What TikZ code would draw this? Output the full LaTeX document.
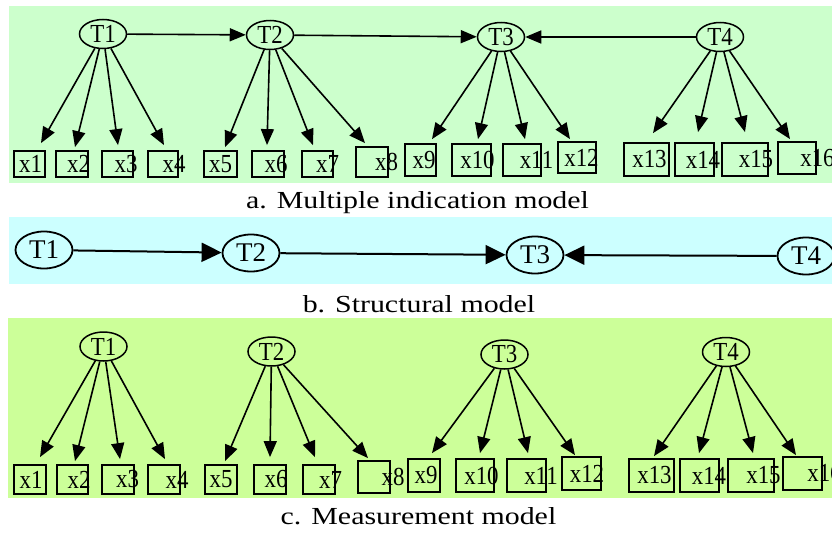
\documentclass[tikz,border=0pt]{standalone}
\usepackage{graphicx}
\usepackage{fontspec}
\setmainfont{Liberation Serif}
\usetikzlibrary{arrows.meta,shapes.geometric}

\definecolor{panelA}{HTML}{CCFFCC}
\definecolor{panelB}{HTML}{CCFFFF}
\definecolor{panelC}{HTML}{CCFF99}

\tikzset{
  latent/.style={ellipse, draw, line width=1.5pt, inner sep=0pt,
                 minimum width=47pt, minimum height=29pt},
  latentb/.style={ellipse, draw, line width=1.8pt, inner sep=0pt,
                  minimum width=57pt, minimum height=37pt},
  obsv/.style={rectangle, draw, line width=1.8pt, inner sep=0pt},
  lbl/.style={inner sep=0pt},
  load/.style={line width=1.6pt, -{Triangle[length=16pt,width=13pt]}},
  pathb/.style={line width=2pt, -{Triangle[length=20pt,width=19pt]}},
  caption/.style={inner sep=0pt, anchor=base},
}

% text helpers
\newcommand{\nodetext}[1]{\scalebox{0.88}[1]{\fontsize{26}{26}\selectfont #1}}
\newcommand{\bigtext}[1]{{\fontsize{27}{27}\selectfont #1}}
\newcommand{\captext}[1]{\scalebox{1.22}[1]{\fontsize{24.5}{28}\selectfont #1}}

\begin{document}
\begin{tikzpicture}[x=1pt,y=-1pt]
\useasboundingbox (0,0) rectangle (832,533);
\clip (0,0) rectangle (832,533);

% panel backgrounds
\fill[panelA] (9,6) rectangle (832,183);
\fill[panelB] (9,217) rectangle (832,284);
\fill[panelC] (8,318) rectangle (832,498);

% ---------- a. multiple indication model ----------
\node[latent] (aT1) at (103,34) {\nodetext{T1}};
\node[latent] (aT2) at (270,35) {\nodetext{T2}};
\node[latent] (aT3) at (501,37) {\nodetext{T3}};
\node[latent] (aT4) at (720,37) {\nodetext{T4}};
\draw[load] (aT1) -- (aT2);
\draw[load] (aT2) -- (aT3);
\draw[load] (aT4) -- (aT3);

\foreach \N/\XL/\YT/\XR/\YB/\LX/\TX/\TY/\PA in {
  1/14/151/45/177/30.5/41/144/aT1,
  2/56/151/88/177/78.5/75/148/aT1,
  3/102/151/133/177/126/118/146/aT1,
  4/148/151/178/177/174/164/146/aT1,
  5/204/151/237/177/220.5/225/148/aT2,
  6/252/151/284/177/276/267/146/aT2,
  7/302/151/333/177/327.5/313/146/aT2,
  8/356/147/388/177/386.5/365/144/aT2,
  9/405/144/436/176/424/432/140/aT3,
  10/452/144/491/176/477.5/478/140/aT3,
  11/503/144/541/176/536.5/525/140/aT3,
  12/558/142/596/173/581.5/570/140/aT3,
  13/624/143/669/176/649.5/653/134/aT4,
  14/675/143/714/176/703/698/133/aT4,
  15/722/143/768/176/756/745/133/aT4,
  16/778/142/816/174/817.5/790/140/aT4}{
  \pgfmathsetmacro\CX{(\XL+\XR)/2}
  \pgfmathsetmacro\CY{(\YT+\YB)/2}
  \pgfmathsetmacro\W{\XR-\XL}
  \pgfmathsetmacro\H{\YB-\YT}
  \pgfmathsetmacro\DX{\TX-\CX}
  \pgfmathsetmacro\DY{\YT-\TY}
  \node[obsv, minimum width=\W pt, minimum height=\H pt] (ax\N) at (\CX,\CY) {};
  \node[lbl] (ax\N l) at (\LX,\CY) {\nodetext{x\N}};
  \draw[load] (\PA) -- ([xshift=\DX pt, yshift=\DY pt]ax\N.north);
}

\node[caption] (capA) at (417.5,208) {\captext{a. Multiple indication model}};

% ---------- b. structural model ----------
\node[latentb] (bT1) at (44,250) {\bigtext{T1}};
\node[latentb] (bT2) at (251,253) {\bigtext{T2}};
\node[latentb] (bT3) at (535,255) {\bigtext{T3}};
\node[latentb] (bT4) at (806,256) {\bigtext{T4}};
\draw[pathb] (bT1) -- (bT2);
\draw[pathb] (bT2) -- (bT3);
\draw[pathb] (bT4) -- (bT3);

\node[caption] (capB) at (419,312) {\captext{b. Structural model}};

% ---------- c. measurement model ----------
\node[latent] (cT1) at (103.5,346.5) {\nodetext{T1}};
\node[latent] (cT2) at (271.5,351.5) {\nodetext{T2}};
\node[latent] (cT3) at (504.5,354.5) {\nodetext{T3}};
\node[latent] (cT4) at (726,352) {\nodetext{T4}};

\foreach \N/\XL/\YT/\XR/\YB/\LX/\TX/\TY/\PA in {
  1/14/465/46/494/31/40/458/cT1,
  2/57/465/88/494/79/75/462/cT1,
  3/102/465/134/494/127.5/120/460/cT1,
  4/148/465/180/494/177/165/460/cT1,
  5/205/465/237/494/221/225/462/cT2,
  6/254/465/286/494/276/270/458/cT2,
  7/303/465/335/494/330.5/315/458/cT2,
  8/358/461/390/493/393/368/459/cT2,
  9/408/459/440/492/426/432/454/cT3,
  10/456/459/494/492/481.5/480/454/cT3,
  11/507/459/546/492/541/528/454/cT3,
  12/562/457/601/490/587/575/456/cT3,
  13/629/459/674/492/654.5/654/457/cT4,
  14/680/459/719/492/709/699/454/cT4,
  15/728/459/774/492/763.5/753/454/cT4,
  16/783/457/822/490/824.5/796/456/cT4}{
  \pgfmathsetmacro\CX{(\XL+\XR)/2}
  \pgfmathsetmacro\CY{(\YT+\YB)/2}
  \pgfmathsetmacro\W{\XR-\XL}
  \pgfmathsetmacro\H{\YB-\YT}
  \pgfmathsetmacro\DX{\TX-\CX}
  \pgfmathsetmacro\DY{\YT-\TY}
  \node[obsv, minimum width=\W pt, minimum height=\H pt] (cx\N) at (\CX,\CY) {};
  \node[lbl] (cx\N l) at (\LX,\CY) {\nodetext{x\N}};
  \draw[load] (\PA) -- ([xshift=\DX pt, yshift=\DY pt]cx\N.north);
}

\node[caption] (capC) at (418.5,524) {\captext{c. Measurement model}};
\end{tikzpicture}
\end{document}
